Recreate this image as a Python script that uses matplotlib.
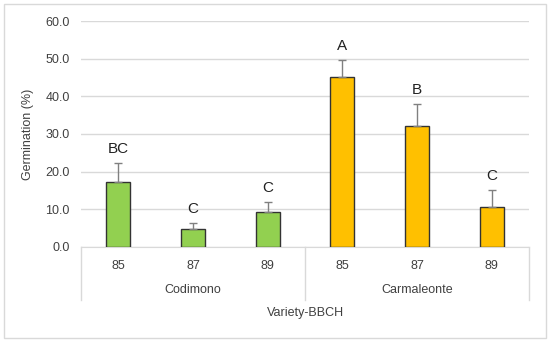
import matplotlib.pyplot as plt
import numpy as np
from matplotlib.transforms import blended_transform_factory

# data
varieties = ['Codimono', 'Carmaleonte']
stages = ['85', '87', '89']
germination = [17.2, 4.8, 9.3, 45.1, 32.1, 10.7]
err_up = [5.1, 1.6, 2.6, 4.5, 5.8, 4.5]
letters = ['BC', 'C', 'C', 'A', 'B', 'C']
colors = ['#92D050'] * 3 + ['#FFC000'] * 3

plt.rcParams['font.family'] = ['Liberation Sans', 'DejaVu Sans']

fig = plt.figure(figsize=(5.5, 3.41), dpi=100, facecolor='white')
ax = fig.add_axes([0.1473, 0.2757, 0.8145, 0.6627])

x = np.arange(len(germination))
zeros = np.zeros(len(err_up))
ax.bar(x, germination, width=0.32, color=colors, edgecolor='#333333',
       linewidth=1.0, zorder=3)
ax.errorbar(x, germination, yerr=[zeros, err_up], fmt='none',
            ecolor='#808080', elinewidth=1.0, capsize=3, capthick=1.0, zorder=4)

for xi, g, e, lab in zip(x, germination, err_up, letters):
    ax.annotate(lab, (xi, g + e), xytext=(0, 5), textcoords='offset points',
                ha='center', va='bottom', fontsize=11, color='#222222')

ax.set_xlim(-0.5, len(germination) - 0.5)
ax.set_ylim(0, 60)
ax.set_yticks(np.arange(0, 61, 10))
ax.set_yticklabels(['%.1f' % v for v in np.arange(0, 61, 10)],
                   fontsize=9, color='#404040')
ax.yaxis.grid(True, color='#d9d9d9', linewidth=1.0, zorder=0)
ax.set_axisbelow(True)
ax.tick_params(axis='y', length=0, pad=8)
ax.tick_params(axis='x', length=0)
ax.set_xticks([])
for s in ['left', 'right', 'top']:
    ax.spines[s].set_visible(False)
ax.spines['bottom'].set_color('#d9d9d9')
ax.set_ylabel('Germination (%)', fontsize=9, color='#404040', labelpad=8)

# two-level category axis
tr = blended_transform_factory(ax.transData, ax.transAxes)
labels = stages * len(varieties)
for xi, lab in zip(x, labels):
    ax.text(xi, -0.085, lab, transform=tr, ha='center', va='center',
            fontsize=9, color='#404040')
for i, v in enumerate(varieties):
    ax.text(i * 3 + 1, -0.19, v, transform=tr, ha='center', va='center',
            fontsize=9, color='#404040')
for bx in [-0.5, 2.5, 5.5]:
    ax.plot([bx, bx], [0, -0.235], transform=tr, color='#d9d9d9',
            linewidth=1.0, clip_on=False)
ax.text(0.5, -0.29, 'Variety-BBCH', transform=ax.transAxes, ha='center',
        va='center', fontsize=9, color='#404040')

# outer frame
fig.patches.append(plt.Rectangle((0.007, 0.009), 0.986, 0.98,
                                 transform=fig.transFigure, fill=False,
                                 edgecolor='#d9d9d9', linewidth=1.0))

fig.savefig('out.png', dpi=100)
